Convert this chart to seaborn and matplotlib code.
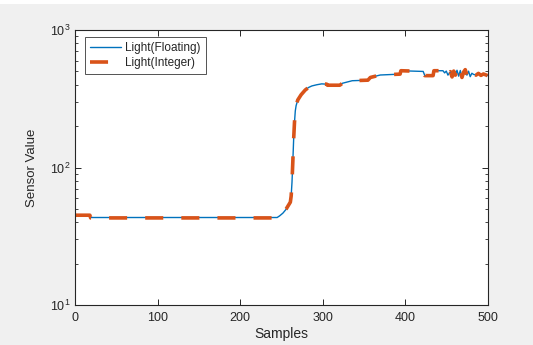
import matplotlib
matplotlib.use("Agg")
import matplotlib.pyplot as plt
import matplotlib.patches as mpatches
import numpy as np
import pandas as pd
import seaborn as sns

# samples where the sensor value changes (corners of the steps)
samples = [0, 18, 19, 245, 248, 252, 256, 261, 262, 263, 264, 265, 266, 267,
           268, 270, 274, 279, 283, 287, 293, 299, 305, 306, 321, 324, 336,
           355, 358, 370, 394, 395, 422, 424, 434, 435, 446, 448, 450, 452,
           455, 457, 459, 461, 463, 465, 467, 469, 471, 473, 475, 477, 479,
           481, 483, 486, 489, 492, 495, 498, 500]

# Light(Floating) readings
light_float = [45.2, 45.0, 43.3, 43.3, 44.5, 46.6, 49.8, 55.5, 62.0, 78.0,
               110.0, 160.0, 212.0, 258.0, 282.0, 310.0, 338.0, 366.0, 382.0,
               392.0, 400.0, 406.0, 404.0, 397.0, 397.0, 410.0, 428.0, 432.0,
               452.0, 471.0, 478.0, 506.0, 500.0, 466.0, 466.0, 506.0, 506.0,
               488.0, 503.0, 470.0, 498.0, 456.0, 503.0, 470.0, 510.0, 462.0,
               508.0, 452.0, 495.0, 515.0, 470.0, 502.0, 458.0, 485.0, 476.0,
               470.0, 484.0, 468.0, 479.0, 472.0, 466.0]

# Light(Integer) readings
light_int = [45, 45, 43, 43, 45, 47, 50, 56, 62, 78,
             110, 160, 212, 258, 282, 310, 338, 366, 382,
             392, 400, 406, 404, 397, 397, 410, 428, 432,
             452, 471, 478, 506, 500, 466, 466, 506, 506,
             488, 503, 470, 498, 456, 503, 470, 510, 462,
             508, 452, 495, 515, 470, 502, 458, 485, 476,
             470, 484, 468, 479, 472, 466]

df = pd.DataFrame({"Samples": samples, "float": light_float, "int": light_int})

sns.set_theme(style="ticks")
plt.rcParams["font.family"] = ["Liberation Sans", "DejaVu Sans"]
plt.rcParams["mathtext.default"] = "regular"

fig = plt.figure(figsize=(5.33, 3.45), dpi=100, facecolor="#f0f0f0")
# thin white strip at the top edge like the screenshot
fig.patches.append(mpatches.Rectangle((0, 0.988), 1, 0.012, transform=fig.transFigure,
                                      facecolor="white", edgecolor="none"))
ax = fig.add_axes([0.1407, 0.1159, 0.774, 0.797])

sns.lineplot(data=df, x="Samples", y="float", ax=ax, color="#0072BD", lw=1.0,
             estimator=None, sort=False, label="Light(Floating)")
sns.lineplot(data=df, x="Samples", y="int", ax=ax, color="#D95319", lw=2.6,
             estimator=None, sort=False, label="Light(Integer)")
ax.lines[-1].set_dashes([5, 5])

ax.set_yscale("log")
ax.set_xlim(0, 500)
ax.set_ylim(10, 1000)
ax.set_xticks([0, 100, 200, 300, 400, 500])
ax.set_xlabel("Samples", fontsize=10, color="#262626", labelpad=2)
ax.set_ylabel("Sensor Value", fontsize=9.5, color="#262626", labelpad=8)

for s in ax.spines.values():
    s.set_color("#262626")
    s.set_linewidth(0.8)
ax.tick_params(which="both", direction="in", top=True, right=True,
               colors="#262626", labelsize=9)
ax.tick_params(which="major", length=4, width=0.7)
ax.tick_params(which="minor", length=2.5, width=0.6)
ax.tick_params(axis="x", pad=5)

leg = ax.legend(loc="upper left", bbox_to_anchor=(0.025, 0.975), borderaxespad=0,
                fontsize=8.5, frameon=True, fancybox=False, handlelength=2.6,
                handletextpad=0.4, borderpad=0.4, labelspacing=0.3)
leg.get_frame().set_edgecolor("#262626")
leg.get_frame().set_linewidth(0.7)
for t in leg.get_texts():
    t.set_color("#262626")

plt.savefig("out.png", dpi=100, facecolor=fig.get_facecolor())
